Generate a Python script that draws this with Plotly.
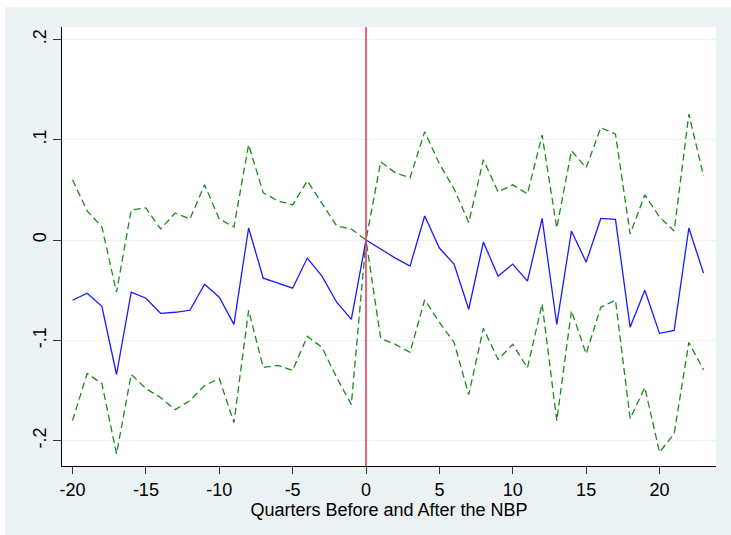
import plotly.graph_objects as go

# Event-time axis: quarters relative to the NBP
quarters = list(range(-20, 24))

# Point estimates
estimate = [
    -0.060, -0.053, -0.066, -0.134, -0.052, -0.058, -0.073, -0.072, -0.070, -0.044,
    -0.057, -0.084, 0.012, -0.038, -0.043, -0.048, -0.018, -0.036, -0.062, -0.079,
    0.000, -0.009, -0.018, -0.026, 0.024, -0.008, -0.024, -0.069, -0.002, -0.036,
    -0.024, -0.041, 0.0215, -0.084, 0.009, -0.022, 0.0215, 0.0205, -0.087, -0.050,
    -0.093, -0.090, 0.012, -0.033,
]

# Upper confidence bound
upper = [
    0.060, 0.029, 0.013, -0.052, 0.030, 0.032, 0.011, 0.027, 0.021, 0.055,
    0.021, 0.013, 0.095, 0.047, 0.039, 0.035, 0.059, 0.037, 0.014, 0.011,
    0.000, 0.078, 0.067, 0.062, 0.108, 0.076, 0.051, 0.0175, 0.080, 0.048,
    0.055, 0.046, 0.1045, 0.012, 0.089, 0.072, 0.112, 0.1055, 0.006, 0.045,
    0.023, 0.009, 0.1255, 0.064,
]

# Lower confidence bound
lower = [
    -0.180, -0.133, -0.143, -0.213, -0.134, -0.148, -0.157, -0.169, -0.160, -0.145,
    -0.138, -0.182, -0.070, -0.127, -0.125, -0.130, -0.096, -0.107, -0.137, -0.164,
    0.000, -0.098, -0.104, -0.112, -0.0595, -0.082, -0.102, -0.154, -0.088, -0.119,
    -0.104, -0.1275, -0.0637, -0.180, -0.0704, -0.1135, -0.067, -0.060, -0.178, -0.147,
    -0.2115, -0.193, -0.102, -0.1295,
]

x_ticks = [-20, -15, -10, -5, 0, 5, 10, 15, 20]
y_ticks = [-0.2, -0.1, 0.0, 0.1, 0.2]
y_tick_text = ["-.2", "-.1", "0", ".1", ".2"]

BG = "#eaf2f3"
FONT = "Liberation Sans Narrow, Liberation Sans, Arial, sans-serif"

fig = go.Figure()

fig.add_trace(go.Scatter(
    x=quarters, y=upper, mode="lines",
    line=dict(color="#1a8a1a", width=1.3, dash="7px,4px"),
    showlegend=False, hoverinfo="skip",
))
fig.add_trace(go.Scatter(
    x=quarters, y=lower, mode="lines",
    line=dict(color="#1a8a1a", width=1.3, dash="7px,4px"),
    showlegend=False, hoverinfo="skip",
))
fig.add_trace(go.Scatter(
    x=quarters, y=estimate, mode="lines",
    line=dict(color="#1a1aff", width=1.3),
    showlegend=False,
))

# Event marker at quarter 0
fig.add_vline(x=0, line=dict(color="#e0405f", width=1.6), layer="above")

# Thin white margins outside the graph region
fig.add_shape(type="rect", xref="paper", yref="paper",
              x0=-0.2, x1=1.2, y0=(466 - 7) / 439.3, y1=1.2,
              fillcolor="white", line=dict(width=0), layer="below")
fig.add_shape(type="rect", xref="paper", yref="paper",
              x0=-0.2, x1=(5 - 62) / 654, y0=-0.3, y1=1.2,
              fillcolor="white", line=dict(width=0), layer="below")

fig.update_layout(
    width=731, height=535,
    margin=dict(l=62, r=15, t=27, b=69),
    paper_bgcolor=BG, plot_bgcolor="white",
    font=dict(family=FONT, color="#000000", size=18),
    showlegend=False,
)

fig.update_xaxes(
    range=[-20.716, 23.85],
    tickvals=x_ticks, ticktext=[str(v) for v in x_ticks],
    ticks="outside", ticklen=7, tickwidth=1.2, tickcolor="#333333",
    showline=True, linecolor="#000000", linewidth=1.3,
    showgrid=False, zeroline=False,
    tickfont=dict(size=18),
    title=dict(text="Quarters Before and After the NBP", font=dict(size=18), standoff=2),
)
fig.update_yaxes(
    range=[-0.2252, 0.2123],
    tickvals=y_ticks, ticktext=y_tick_text, tickangle=-90,
    ticks="outside", ticklen=8, tickwidth=1.2, tickcolor="#333333",
    showline=True, linecolor="#000000", linewidth=1.3,
    showgrid=True, gridcolor=BG, gridwidth=1,
    zeroline=False,
    tickfont=dict(size=18),
)

fig.write_html("out.html")
